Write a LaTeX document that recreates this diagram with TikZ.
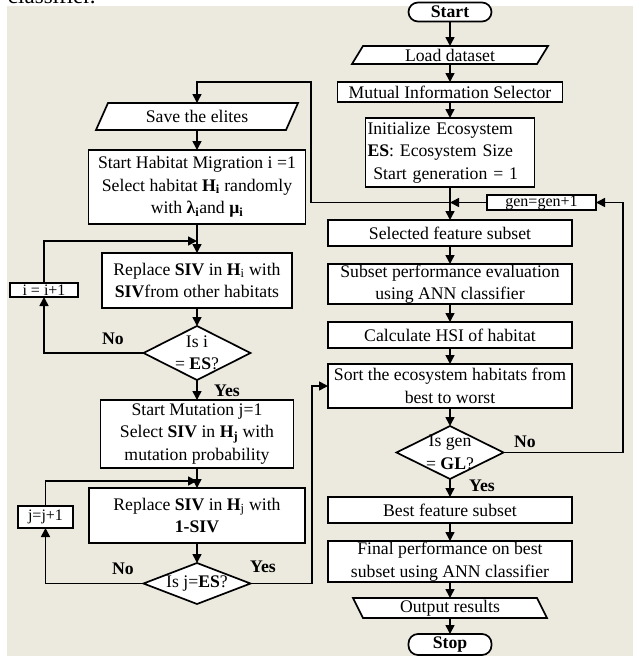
\documentclass[tikz,border=0pt]{standalone}
\usepackage{fontspec}
\setmainfont{Liberation Serif}
\usetikzlibrary{arrows.meta,shapes.geometric,backgrounds,calc}
\definecolor{bgc}{RGB}{236,233,223}
\begin{document}
\begin{tikzpicture}[x=1pt,y=-1pt,
  font=\fontsize{17.7}{22.5}\selectfont,
  every node/.style={inner sep=0pt,outer sep=0pt},
  proc/.style={draw,line width=1.7pt,fill=white,align=center},
  term/.style={proc,rounded corners=9.5pt},
  para/.style={align=center},
  paraline/.style={draw,line width=1.7pt,fill=white},
  dec/.style={diamond,draw,line width=1.7pt,fill=white},
  dtext/.style={align=center},
  small/.style={proc,font=\fontsize{16}{18}\selectfont},
  lbl/.style={font=\fontsize{17.7}{20}\selectfont\bfseries},
  arr/.style={line width=1.6pt,-{Triangle[length=9pt,width=9pt]}}]
\useasboundingbox (0,0) rectangle (633,656);
\clip (0,0) rectangle (633,656);
\node[anchor=base west] (cl) at (8,3.5) {\fontsize{23}{23}\selectfont classifier.};
% right column
\node[term,minimum width=83,minimum height=19] (start) at (450,12) {\textbf{Start}};
\node[para,minimum width=185,minimum height=18] (load) at (450,55) {Load dataset};
\node[proc,minimum width=225,minimum height=20] (mis) at (450,92) {Mutual Information Selector};
\node[proc,minimum width=169,minimum height=69,align=left,text width=165,inner sep=2pt] (init) at (450,152.5) {Initialize Ecosystem\\\textbf{ES}: Ecosystem Size\\\ Start generation = 1};
\node[small,minimum width=109,minimum height=15] (gen) at (541.5,202.5) {gen=gen+1};
\node[proc,minimum width=244,minimum height=26] (sel) at (450,233) {Selected feature subset};
\node[proc,minimum width=244,minimum height=40] (perf) at (450,284) {Subset performance evaluation\\using ANN classifier};
\node[proc,minimum width=244,minimum height=26] (hsi) at (450,335) {Calculate HSI of habitat};
\node[proc,minimum width=244,minimum height=44] (sort) at (450,386) {Sort the ecosystem habitats from\\best to worst};
\node[dec,minimum width=107,minimum height=53] (d3) at (450,452.5) {};
\node[dtext] (d3t) at (d3.center) {Is gen\\= \textbf{GL}?};
\node[proc,minimum width=244,minimum height=26] (best) at (450,510) {Best feature subset};
\node[proc,minimum width=244,minimum height=41] (final) at (450,561.5) {Final performance on best\\subset using ANN classifier};
\node[para,minimum width=184,minimum height=20] (out) at (450,608) {Output results};
\node[term,minimum width=83,minimum height=21] (stop) at (450,644.5) {\textbf{Stop}};
% left column
\node[para,minimum width=190,minimum height=27] (save) at (197,116.5) {Save the elites};
\node[proc,minimum width=217,minimum height=74] (mig) at (197,187) {Start Habitat Migration i =1\\Select habitat \textbf{H\textsubscript{i}} randomly\\with \textbf{λ\textsubscript{i}}and \textbf{μ\textsubscript{i}}};
\node[proc,minimum width=190,minimum height=55] (rep1) at (197,280.5) {Replace \textbf{SIV} in \textbf{H}\textsubscript{i} with\\\textbf{SIV}from other habitats};
\node[small,minimum width=68,minimum height=14] (ibox) at (44,290) {i = i+1};
\node[dec,minimum width=107,minimum height=54] (d1) at (197,353) {};
\node[dtext] (d1t) at (d1.center) {Is i\\= \textbf{ES}?};
\node[proc,minimum width=193,minimum height=68] (mut) at (197,434) {Start Mutation j=1\\Select \textbf{SIV} in \textbf{H\textsubscript{j}} with\\mutation probability};
\node[proc,minimum width=216,minimum height=55] (rep2) at (197,515.5) {Replace \textbf{SIV} in \textbf{H}\textsubscript{j} with\\\textbf{1-SIV}};
\node[small,minimum width=55,minimum height=22] (jbox) at (45.5,517) {j=j+1};
\node[dec,minimum width=107,minimum height=41] (d2) at (197,583.5) {};
\node[dtext] (d2t) at (d2.center) {Is j=\textbf{ES}?};
% labels
\node[lbl] (no1) at (113,339) {No};
\node[lbl] (yes1) at (227,391) {Yes};
\node[lbl] (no2) at (123,569) {No};
\node[lbl] (yes2) at (263,567) {Yes};
\node[lbl] (no3) at (525,442) {No};
\node[lbl] (yes3) at (482,486) {Yes};
% background and parallelograms
\begin{scope}[on background layer]
\fill[bgc] (7,6) rectangle (633,656);
\draw[paraline] ([xshift=6]save.north west) -- ([xshift=6]save.north east) -- ([xshift=-6]save.south east) -- ([xshift=-6]save.south west) -- cycle;
\draw[paraline] ([xshift=5.5]load.north west) -- ([xshift=5.5]load.north east) -- ([xshift=-5.5]load.south east) -- ([xshift=-5.5]load.south west) -- cycle;
\draw[paraline] ([xshift=-5]out.north west) -- ([xshift=-5]out.north east) -- ([xshift=5]out.south east) -- ([xshift=5]out.south west) -- cycle;
\end{scope}
% connectors right
\draw[arr] (start) -- (load);
\draw[arr] (load) -- (mis);
\draw[arr] (mis) -- (init);
\draw[arr] (init) -- (sel);
\coordinate (jn) at (init.south |- gen.west);
\draw[arr] (gen.west) -- (jn);
\coordinate (fb) at (311,82);
\draw[arr] (jn) -| (fb) -| (save.north);
\draw[arr] (sel) -- (perf);
\draw[arr] (perf) -- (hsi);
\draw[arr] (hsi) -- (sort);
\draw[arr] (sort) -- (d3);
\draw[arr] (d3) -- (best);
\draw[arr] (best) -- (final);
\draw[arr] (final) -- (out);
\draw[arr] (out) -- (stop);
\coordinate (rt) at (623,0);
\draw[arr] (d3.east) -| (rt |- gen.east) -- (gen.east);
% connectors left
\draw[arr] (save) -- (mig);
\draw[arr] (mig) -- (rep1);
\draw[arr] (rep1) -- (d1);
\draw[arr] (d1.west) -| (ibox.south);
\draw[arr] (ibox.north) |- ($(rep1.north)+(0,-12)$);
\draw[arr] (d1) -- (mut);
\draw[arr] (mut) -- (rep2);
\draw[arr] (rep2) -- (d2);
\draw[arr] (d2.west) -| (jbox.south);
\draw[arr] (jbox.north) |- ($(rep2.north)+(0,-7)$);
\coordinate (yc) at (312,0);
\draw[arr] (d2.east) -| (yc |- sort.west) -- (sort.west);
\end{tikzpicture}
\end{document}
